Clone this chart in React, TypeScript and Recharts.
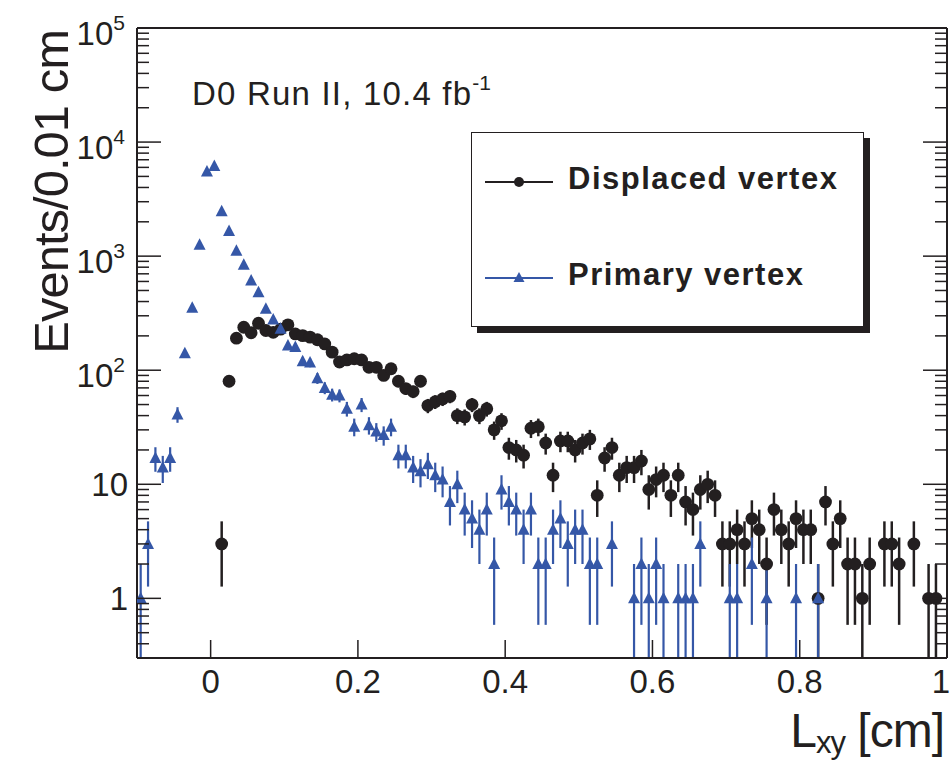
import React from 'react';
import { ScatterChart, Scatter, XAxis, YAxis, ErrorBar, Legend, Customized } from 'recharts';

// bin centres of L_xy [cm] and events per 0.01 cm
const displacedLxy = [
  0.015, 0.025, 0.035, 0.045, 0.055, 0.065, 0.075, 0.085, 0.095, 0.105,
  0.115, 0.125, 0.135, 0.145, 0.155, 0.165, 0.175, 0.185, 0.195, 0.205,
  0.215, 0.225, 0.235, 0.245, 0.255, 0.265, 0.275, 0.285, 0.295, 0.305,
  0.315, 0.325, 0.335, 0.345, 0.355, 0.365, 0.375, 0.385, 0.395, 0.405,
  0.415, 0.425, 0.435, 0.445, 0.455, 0.465, 0.475, 0.485, 0.495, 0.505,
  0.515, 0.525, 0.535, 0.545, 0.555, 0.565, 0.575, 0.585, 0.595, 0.605,
  0.615, 0.625, 0.635, 0.645, 0.655, 0.665, 0.675, 0.685, 0.695, 0.705,
  0.715, 0.725, 0.735, 0.745, 0.755, 0.765, 0.775, 0.785, 0.795, 0.805,
  0.815, 0.825, 0.835, 0.845, 0.855, 0.865, 0.875, 0.885, 0.895, 0.915,
  0.925, 0.935, 0.955, 0.975, 0.985,
];
const displacedEvents = [
  3, 80, 191, 238, 213, 258, 223, 215, 229, 250,
  208, 201, 195, 185, 170, 144, 118, 123, 126, 123,
  106, 106, 90, 103, 80, 69, 65, 80, 49, 53,
  56, 59, 40, 39, 50, 40, 46, 30, 36, 21,
  20, 18, 31, 32, 23, 12, 24, 24, 20, 23,
  25, 8, 17, 21, 12, 14, 14, 16, 9, 11,
  12, 8, 12, 7, 6, 9, 10, 8, 3, 3,
  4, 3, 5, 4, 2, 6, 4, 3, 5, 4,
  4, 1, 7, 3, 5, 2, 2, 1, 2, 3,
  3, 2, 3, 1, 1,
];

const primaryLxy = [
  -0.095, -0.085, -0.075, -0.065, -0.055, -0.045, -0.035, -0.025, -0.015, -0.005,
  0.005, 0.015, 0.025, 0.035, 0.045, 0.055, 0.065, 0.075, 0.085, 0.095,
  0.105, 0.115, 0.125, 0.135, 0.145, 0.155, 0.165, 0.175, 0.185, 0.195,
  0.205, 0.215, 0.225, 0.235, 0.245, 0.255, 0.265, 0.275, 0.285, 0.295,
  0.305, 0.315, 0.325, 0.335, 0.345, 0.355, 0.365, 0.375, 0.385, 0.395,
  0.405, 0.415, 0.425, 0.435, 0.445, 0.455, 0.465, 0.475, 0.485, 0.495,
  0.505, 0.515, 0.525, 0.545, 0.575, 0.585, 0.595, 0.605, 0.615, 0.635,
  0.645, 0.655, 0.665, 0.705, 0.715, 0.735, 0.755, 0.795, 0.825,
];
const primaryEvents = [
  1, 3, 17, 14, 17, 41, 141, 353, 1260, 5530,
  6160, 2470, 1660, 1115, 841, 612, 483, 346, 279, 231,
  165, 160, 120, 117, 85, 70, 61, 60, 46, 32,
  50, 33, 29, 27, 32, 18, 18, 14, 13, 15,
  12, 11, 7, 10, 6, 5, 4, 6, 2, 9,
  7, 6, 4, 6, 2, 2, 4, 5, 3, 4,
  4, 2, 2, 3, 1, 2, 1, 2, 1, 1,
  1, 1, 3, 1, 1, 2, 1, 1, 1,
];

const seriesNames = ['Displaced vertex', 'Primary vertex'];

const xTicks = [0, 0.2, 0.4, 0.6, 0.8, 1];
const xTickLabels = ['0', '0.2', '0.4', '0.6', '0.8', '1'];
const yMajor = [1, 10, 100, 1000, 10000, 100000];
const yLabelBase = ['1', '10', '10', '10', '10', '10'];
const yLabelExp = ['', '', '2', '3', '4', '5'];

const Y_MIN = 0.3;
const Y_MAX = 100000;
const BLACK = '#231f20';
const BLUE = '#3557a7';
const FONT = 'Liberation Sans, Arial, Helvetica, sans-serif';

// minor + major log ticks inside the frame
const yTicks = [0.1, 1, 10, 100, 1000, 10000]
  .flatMap((d) => [1, 2, 3, 4, 5, 6, 7, 8, 9].map((m) => +(m * d).toPrecision(3)))
  .concat([Y_MAX])
  .filter((v) => v >= Y_MIN && v <= Y_MAX);

const withErrors = (xs: number[], ns: number[]) =>
  xs.map((x, i) => {
    const n = ns[i];
    const s = Math.sqrt(n);
    return { x, y: n, err: [Math.min(s, n - Y_MIN), s] };
  });

const displacedData = withErrors(displacedLxy, displacedEvents);
const primaryData = withErrors(primaryLxy, primaryEvents);

const majorIndex = (v: number) => yMajor.findIndex((m) => Math.abs(m - v) / m < 1e-6);

const LeftTick = (props: any) => {
  const { x, y, payload } = props;
  const idx = majorIndex(payload.value);
  const major = idx >= 0;
  return (
    <g>
      <line x1={x} x2={x + (major ? 24 : 12)} y1={y} y2={y} stroke={BLACK} strokeWidth={1.5} />
      {major && yLabelExp[idx] !== '' && (
        <text x={x - 12} y={y + 17} textAnchor="end" fontSize={33} fontFamily={FONT} fill={BLACK}>
          {yLabelBase[idx]}
          <tspan fontSize={21} dy={-15}>{yLabelExp[idx]}</tspan>
        </text>
      )}
      {major && yLabelExp[idx] === '' && (
        <text x={x - 9} y={y + 12} textAnchor="end" fontSize={33} fontFamily={FONT} fill={BLACK}>
          {yLabelBase[idx]}
        </text>
      )}
    </g>
  );
};

const RightTick = (props: any) => {
  const { x, y, payload } = props;
  const major = majorIndex(payload.value) >= 0;
  return <line x1={x} x2={x - (major ? 24 : 12)} y1={y} y2={y} stroke={BLACK} strokeWidth={1.5} />;
};

const BottomTick = (props: any) => {
  const { x, y, payload } = props;
  const i = xTicks.indexOf(payload.value);
  // last label sits against the right edge of the picture
  const lx = i === xTicks.length - 1 ? x - 6 : x;
  return (
    <g>
      <line x1={x} x2={x} y1={y} y2={y - 18} stroke={BLACK} strokeWidth={1.5} />
      <text x={lx} y={y + 35} textAnchor="middle" fontSize={33} fontFamily={FONT} fill={BLACK}>
        {xTickLabels[i]}
      </text>
    </g>
  );
};

const TopTick = (props: any) => {
  const { x, y } = props;
  return <line x1={x} x2={x} y1={y} y2={y + 18} stroke={BLACK} strokeWidth={1.5} />;
};

const Circle = (props: any) => <circle cx={props.cx} cy={props.cy} r={6.4} fill={BLACK} />;
const Triangle = (props: any) => {
  const { cx, cy } = props;
  return <polygon points={`${cx},${cy - 6.5} ${cx - 6},${cy + 5} ${cx + 6},${cy + 5}`} fill={BLUE} />;
};

const Titles = () => (
  <g fontFamily={FONT} fill={BLACK}>
    <text transform="rotate(-90)" x={-30} y={68} textAnchor="end" fontSize={49} letterSpacing={-1}>
      Events/0.01 cm
    </text>
    <text x={944} y={747} textAnchor="end" fontSize={48} letterSpacing={-1}>
      L<tspan fontSize={31} dy={6}>xy</tspan>
      <tspan dy={-6}> [cm]</tspan>
    </text>
    <text x={192} y={105} fontSize={33} letterSpacing={1.2}>
      D0 Run II, 10.4 fb<tspan fontSize={21} dx={0} dy={-15} letterSpacing={0}>-1</tspan>
    </text>
  </g>
);

const LegendBox = () => (
  <div
    style={{
      width: 393,
      height: 195,
      boxSizing: 'border-box',
      border: `1.5px solid ${BLACK}`,
      boxShadow: `6px 6px 0 ${BLACK}`,
      background: '#fff',
      position: 'relative',
      fontFamily: FONT,
      color: BLACK,
    }}
  >
    {seriesNames.map((name, i) => {
      const cy = i === 0 ? 49 : 145;
      const color = i === 0 ? BLACK : BLUE;
      return (
        <React.Fragment key={name}>
          <svg style={{ position: 'absolute', left: 13, top: cy - 10 }} width={72} height={20}>
            <line x1={0} x2={68} y1={10} y2={10} stroke={color} strokeWidth={2} />
            {i === 0 ? (
              <circle cx={34} cy={10} r={5} fill={color} />
            ) : (
              <polygon points="34,4 28.5,14 39.5,14" fill={color} />
            )}
          </svg>
          <div
            style={{
              position: 'absolute',
              left: 96,
              top: cy - 21,
              height: 36,
              lineHeight: '36px',
              fontSize: 31,
              fontWeight: 'bold',
              letterSpacing: 1.5,
              whiteSpace: 'nowrap',
            }}
          >
            {name}
          </div>
        </React.Fragment>
      );
    })}
  </div>
);

export default function App() {
  return (
    <div style={{ position: 'absolute', left: 0, top: 0, width: 951, height: 760, background: '#fff' }}>
      <ScatterChart width={951} height={760} margin={{ top: 27, right: 2, bottom: 42, left: 77 }}>
        <XAxis
          xAxisId="b"
          type="number"
          dataKey="x"
          domain={[-0.1, 1]}
          ticks={xTicks}
          interval={0}
          height={60}
          tickSize={0}
          tickMargin={0}
          tickLine={false}
          tick={<BottomTick />}
          axisLine={{ stroke: BLACK, strokeWidth: 2 }}
          allowDataOverflow
        />
        <XAxis
          xAxisId="t"
          orientation="top"
          type="number"
          domain={[-0.1, 1]}
          ticks={xTicks}
          interval={0}
          height={1}
          tickSize={0}
          tickMargin={0}
          tickLine={false}
          tick={<TopTick />}
          axisLine={{ stroke: BLACK, strokeWidth: 2 }}
          allowDataOverflow
        />
        <YAxis
          yAxisId="l"
          type="number"
          dataKey="y"
          scale="log"
          domain={[Y_MIN, Y_MAX]}
          ticks={yTicks}
          interval={0}
          width={60}
          tickSize={0}
          tickMargin={0}
          tickLine={false}
          tick={<LeftTick />}
          axisLine={{ stroke: BLACK, strokeWidth: 2 }}
          allowDataOverflow
        />
        <YAxis
          yAxisId="r"
          orientation="right"
          type="number"
          scale="log"
          domain={[Y_MIN, Y_MAX]}
          ticks={yTicks}
          interval={0}
          width={2}
          tickSize={0}
          tickMargin={0}
          tickLine={false}
          tick={<RightTick />}
          axisLine={{ stroke: BLACK, strokeWidth: 2 }}
          allowDataOverflow
        />
        <Legend
          layout="vertical"
          align="center"
          verticalAlign="middle"
          content={<LegendBox />}
          wrapperStyle={{ left: 471, top: 132, width: 393, height: 195 }}
        />
        <Scatter
          name={seriesNames[0]}
          data={displacedData}
          xAxisId="b"
          yAxisId="l"
          fill={BLACK}
          shape={<Circle />}
          isAnimationActive={false}
        >
          <ErrorBar dataKey="err" direction="y" width={0} stroke={BLACK} strokeWidth={2.5} isAnimationActive={false} />
        </Scatter>
        <Scatter
          name={seriesNames[1]}
          data={primaryData}
          xAxisId="b"
          yAxisId="l"
          fill={BLUE}
          shape={<Triangle />}
          isAnimationActive={false}
        >
          <ErrorBar dataKey="err" direction="y" width={0} stroke={BLUE} strokeWidth={2.2} isAnimationActive={false} />
        </Scatter>
        <Customized component={<Titles />} />
      </ScatterChart>
    </div>
  );
}
